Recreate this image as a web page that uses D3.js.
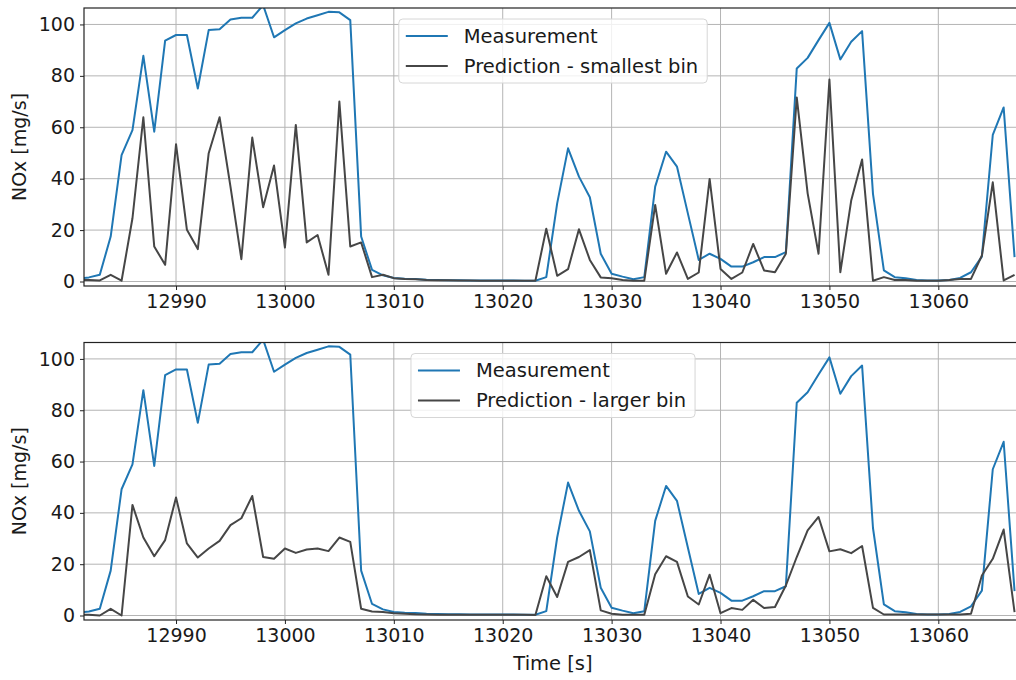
<!DOCTYPE html>
<html>
<head>
<meta charset="utf-8">
<script src="https://cdn.jsdelivr.net/npm/d3@7"></script>
<style>
  html, body { margin: 0; padding: 0; background: #fff; }
  svg text { font-family: "DejaVu Sans", sans-serif; fill: #1a1a1a; }
</style>
</head>
<body>
<svg id="chart" width="1016" height="680"></svg>
<script>
// ---- data (time in s, NOx in mg/s) ----
const startTime = 12981;
const measurement = [
  1.0, 1.6, 2.6, 17.5, 49.2, 58.9, 87.8, 58.3, 93.7, 95.9,
  95.9, 75.1, 97.8, 98.1, 101.9, 102.6, 102.6, 107.5, 95.0, 97.8,
  100.4, 102.3, 103.6, 104.9, 104.7, 101.7, 17.5, 4.5, 2.4, 1.4,
  1.1, 1.0, 0.7, 0.6, 0.5, 0.5, 0.4, 0.4, 0.4, 0.4,
  0.4, 0.3, 0.3, 1.7, 30.4, 51.8, 40.8, 32.8, 10.8, 3.0,
  1.9, 0.9, 1.7, 36.9, 50.5, 44.7, 26.5, 8.4, 10.8, 8.8,
  5.8, 5.8, 7.5, 9.5, 9.5, 11.4, 82.9, 87.0, 93.9, 100.6,
  86.4, 93.3, 97.4, 34.1, 4.3, 1.7, 1.3, 0.6, 0.4, 0.4,
  0.6, 1.4, 3.6, 9.7, 57.0, 67.7, 9.5
];
const predSmallest = [
  0.6, 0.6, 0.4, 2.6, 0.3, 24.6, 63.9, 13.6, 6.5, 53.4,
  20.1, 12.6, 49.9, 63.9, 36.9, 8.7, 56.0, 28.9, 45.1, 13.2,
  60.9, 15.2, 18.1, 2.6, 70.0, 13.6, 15.2, 1.7, 2.6, 1.3,
  1.0, 0.9, 0.6, 0.5, 0.5, 0.4, 0.4, 0.3, 0.3, 0.3,
  0.3, 0.3, 0.3, 20.5, 2.2, 4.8, 20.3, 8.4, 1.6, 1.3,
  0.6, 0.3, 0.3, 29.8, 3.0, 11.3, 1.0, 3.5, 39.9, 4.9,
  1.0, 3.5, 14.6, 4.3, 3.6, 10.8, 71.6, 34.3, 10.8, 78.6,
  3.6, 31.5, 47.5, 0.3, 1.7, 0.6, 0.6, 0.3, 0.3, 0.3,
  0.6, 1.0, 1.0, 10.1, 38.6, 0.4, 2.6
];
const predLarger = [
  0.3, 0.3, 0.0, 2.6, 0.0, 43.1, 30.4, 23.1, 29.4, 46.0,
  28.1, 22.6, 26.1, 29.1, 35.2, 37.9, 46.6, 22.8, 22.1, 26.1,
  24.4, 25.7, 26.1, 25.1, 30.4, 28.7, 2.6, 1.6, 1.4, 0.9,
  0.7, 0.5, 0.4, 0.3, 0.3, 0.3, 0.3, 0.3, 0.3, 0.3,
  0.3, 0.3, 0.2, 15.3, 7.2, 20.9, 22.8, 25.5, 2.0, 0.7,
  0.3, 0.3, 0.3, 16.1, 23.1, 20.9, 7.4, 4.3, 15.9, 0.9,
  2.9, 2.2, 6.1, 2.9, 3.3, 11.7, 22.8, 33.2, 38.4, 25.0,
  25.8, 24.3, 27.1, 3.0, 0.4, 0.4, 0.4, 0.4, 0.4, 0.4,
  0.4, 0.4, 0.7, 15.6, 22.1, 33.5, 1.3
];
const xTicks = [12990, 13000, 13010, 13020, 13030, 13040, 13050, 13060];
const yTicks = [0, 20, 40, 60, 80, 100];
const yLabel = "NOx [mg/s]";
const xLabel = "Time [s]";
const panels = [
  { pred: predSmallest, predName: "Prediction - smallest bin", top: 8, bottom: 286 },
  { pred: predLarger, predName: "Prediction - larger bin", top: 342.5, bottom: 620 }
];
const measName = "Measurement";

// ---- layout ----
const svg = d3.select("#chart");
const left = 84, right = 1030;
const pxPerSec = 10.89;
const x0 = 12981.55;
const x = d3.scaleLinear().domain([x0, x0 + (right - left) / pxPerSec]).range([left, right]);
const blue = "#1f77b4", dark = "#464646";

panels.forEach((p, i) => {
  const y = d3.scaleLinear().domain([-1.75, 106.4]).range([p.bottom, p.top]);
  const g = svg.append("g");
  const clipId = "clip" + i;
  svg.append("clipPath").attr("id", clipId)
    .append("rect").attr("x", left).attr("y", p.top).attr("width", right - left).attr("height", p.bottom - p.top);

  // grid
  g.append("g").selectAll("line").data(xTicks).join("line")
    .attr("x1", d => x(d)).attr("x2", d => x(d)).attr("y1", p.top).attr("y2", p.bottom)
    .attr("stroke", "#b4b4b4").attr("stroke-width", 1);
  g.append("g").selectAll("line").data(yTicks).join("line")
    .attr("x1", left).attr("x2", right).attr("y1", d => y(d)).attr("y2", d => y(d))
    .attr("stroke", "#b4b4b4").attr("stroke-width", 1);

  // lines
  const line = d3.line().x((d, j) => x(startTime + j)).y(d => y(d));
  const lg = g.append("g").attr("clip-path", `url(#${clipId})`);
  lg.append("path").datum(measurement).attr("d", line)
    .attr("fill", "none").attr("stroke", blue).attr("stroke-width", 2).attr("stroke-linejoin", "round");
  lg.append("path").datum(p.pred).attr("d", line)
    .attr("fill", "none").attr("stroke", dark).attr("stroke-width", 2).attr("stroke-linejoin", "round");

  // axes
  const xa = g.append("g").attr("transform", `translate(0,${p.bottom})`)
    .call(d3.axisBottom(x).tickValues(xTicks).tickFormat(d3.format("d")).tickSize(4).tickPadding(5));
  const ya = g.append("g").attr("transform", `translate(${left},0)`)
    .call(d3.axisLeft(y).tickValues(yTicks).tickSize(4).tickPadding(5));
  [xa, ya].forEach(a => {
    a.select(".domain").remove();
    a.selectAll(".tick line").attr("stroke", "#222").attr("stroke-width", 1);
    a.selectAll(".tick text").attr("font-size", "19px").attr("font-family", "DejaVu Sans").attr("fill", "#1a1a1a");
  });

  // spines
  g.append("rect").attr("x", left).attr("y", p.top).attr("width", right - left).attr("height", p.bottom - p.top)
    .attr("fill", "none").attr("stroke", "#222").attr("stroke-width", 1.2);

  // y label
  g.append("text").attr("transform", `translate(19,${(p.top + p.bottom) / 2}) rotate(-90)`)
    .attr("text-anchor", "middle").attr("dominant-baseline", "central")
    .attr("font-size", "19px").text(yLabel);

  // legend
  const leg = g.append("g");
  const fs = 19.5;
  const items = [{ name: measName, color: blue }, { name: p.predName, color: dark }];
  const texts = items.map((it, k) => leg.append("text").attr("font-size", fs + "px")
    .attr("dominant-baseline", "central").text(it.name));
  const tw = d3.max(texts, t => t.node().getComputedTextLength());
  const boxW = 7 + 42 + 16 + tw + 9;
  const cx = 553;
  const bx = cx - boxW / 2, by = p.top + 11;
  leg.insert("rect", "text").attr("x", bx).attr("y", by).attr("width", boxW).attr("height", 64)
    .attr("rx", 4).attr("fill", "white").attr("fill-opacity", 0.8).attr("stroke", "#d6d6d6").attr("stroke-width", 1);
  items.forEach((it, k) => {
    const ly = by + 17 + k * 30;
    leg.append("line").attr("x1", bx + 7).attr("x2", bx + 49).attr("y1", ly).attr("y2", ly)
      .attr("stroke", it.color).attr("stroke-width", 2);
    texts[k].attr("x", bx + 65).attr("y", ly);
  });
});

svg.append("text").attr("x", 553).attr("y", 663).attr("text-anchor", "middle")
  .attr("dominant-baseline", "central").attr("font-size", "19.5px").text(xLabel);
</script>
</body>
</html>
